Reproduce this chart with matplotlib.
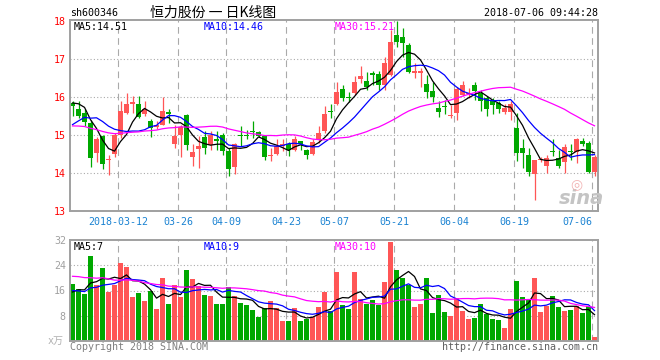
import matplotlib
matplotlib.use("Agg")
import matplotlib.pyplot as plt
import numpy as np
import pandas as pd

"""
        Data  (daily candles 2018-02-28 .. 2018-07-06, read off the picture)
"""
opens = [15.84, 15.69, 15.58, 15.32, 14.53, 14.96, 14.33, 14.49, 15.01, 15.58,
         15.82, 15.82, 15.54, 15.37, 15.20, 15.27, 15.61, 14.75, 15.01, 15.51,
         14.43, 14.62, 14.94, 14.73, 14.90, 15.01, 14.57, 14.16, 14.98, 15.00,
         15.11, 15.07, 14.96, 14.45, 14.51, 14.72, 14.75, 14.61, 14.83, 14.61,
         14.51, 14.86, 15.10, 15.62, 15.81, 16.21, 16.00, 16.10, 16.47, 16.42,
         16.62, 16.60, 16.32, 16.58, 17.63, 17.57, 17.37, 16.62, 16.62, 16.34,
         16.16, 15.70, 15.77, 15.51, 15.57, 16.06, 16.07, 16.32, 16.10, 15.97,
         15.90, 15.84, 15.60, 15.60, 15.17, 14.66, 14.46, 13.98, 14.35, 14.18,
         14.58, 14.39, 14.30, 14.58, 14.54, 14.85, 14.79, 14.02]
highs = [15.90, 15.89, 15.68, 15.40, 14.95, 15.00, 14.48, 15.05, 15.89, 16.10,
         16.02, 16.02, 15.89, 15.42, 15.36, 16.00, 15.68, 15.27, 15.27, 15.55,
         14.77, 14.98, 15.10, 15.10, 15.10, 15.05, 14.66, 14.78, 15.23, 15.14,
         15.36, 15.11, 15.01, 14.66, 14.88, 14.88, 14.81, 14.96, 14.85, 14.64,
         14.88, 15.23, 15.75, 15.82, 16.40, 16.32, 16.12, 16.54, 16.82, 16.65,
         16.67, 16.68, 17.04, 17.76, 18.00, 17.81, 17.41, 16.89, 16.75, 16.58,
         16.40, 15.89, 15.92, 15.79, 16.27, 16.41, 16.24, 16.39, 16.19, 16.02,
         15.97, 15.89, 15.80, 15.89, 15.58, 14.88, 14.66, 14.35, 14.42, 14.48,
         14.88, 14.61, 14.75, 14.75, 14.92, 14.92, 14.83, 14.46]
lows = [15.49, 15.45, 15.23, 14.15, 14.29, 14.11, 13.94, 14.42, 14.92, 15.54,
        15.58, 15.45, 15.51, 14.95, 15.16, 15.25, 15.32, 14.66, 14.42, 14.60,
        14.17, 14.14, 14.51, 14.61, 14.60, 14.48, 13.91, 13.98, 14.72, 14.88,
        14.92, 14.94, 14.35, 14.31, 14.48, 14.57, 14.44, 14.57, 14.61, 14.37,
        14.48, 14.79, 15.05, 15.45, 15.79, 15.88, 15.86, 16.05, 16.36, 16.18,
        16.32, 16.18, 16.18, 16.54, 17.32, 17.06, 16.62, 16.49, 16.27, 15.96,
        15.86, 15.48, 15.54, 15.44, 15.40, 16.02, 15.97, 15.93, 15.62, 15.49,
        15.54, 15.58, 15.56, 15.40, 14.31, 14.13, 13.93, 13.30, 14.30, 14.00,
        14.44, 14.13, 14.00, 14.35, 14.26, 14.70, 14.00, 13.93]
closes = [15.75, 15.49, 15.33, 14.38, 14.90, 14.23, 14.37, 14.99, 15.64, 15.82,
          15.87, 15.47, 15.68, 15.18, 15.25, 15.64, 15.54, 14.96, 15.21, 14.73,
          14.55, 14.70, 14.66, 15.01, 14.85, 14.57, 14.11, 14.75, 14.96, 14.97,
          15.08, 14.98, 14.41, 14.47, 14.72, 14.75, 14.60, 14.88, 14.75, 14.48,
          14.81, 15.05, 15.54, 15.60, 16.12, 15.98, 15.97, 16.39, 16.54, 16.27,
          16.58, 16.30, 16.89, 17.43, 17.44, 17.42, 16.65, 16.67, 16.67, 16.12,
          16.00, 15.59, 15.74, 15.53, 16.20, 16.32, 16.09, 16.15, 15.90, 15.67,
          15.78, 15.67, 15.71, 15.82, 14.53, 14.53, 14.02, 14.33, 14.37, 14.39,
          14.56, 14.18, 14.68, 14.55, 14.90, 14.75, 14.02, 14.41]
# volume, in 万 (10k) lots
volumes = [18.0, 16.6, 14.8, 26.9, 17.7, 23.2, 15.5, 17.7, 24.8, 23.5,
           14.0, 15.1, 12.7, 15.9, 10.2, 20.0, 11.7, 17.6, 14.0, 22.5,
           19.7, 17.4, 14.5, 14.2, 11.7, 11.7, 17.2, 14.3, 12.0, 11.3,
           9.7, 7.5, 10.3, 12.6, 10.3, 6.3, 6.3, 10.4, 6.3, 7.1,
           7.6, 10.7, 15.5, 9.5, 21.8, 11.3, 10.1, 21.8, 13.2, 11.7,
           12.9, 11.4, 18.6, 31.4, 22.5, 19.9, 17.7, 10.7, 11.7, 19.9,
           8.8, 14.5, 9.1, 7.8, 13.6, 9.4, 6.9, 7.2, 11.7, 8.5,
           6.9, 6.6, 4.0, 10.1, 19.0, 13.9, 13.2, 19.9, 9.1, 11.0,
           14.2, 10.7, 9.4, 9.7, 11.0, 8.8, 11.0, 1.2]

# sessions before the window (not drawn), only to start the moving averages
prior_closes = [15.6, 15.7, 15.8, 15.9, 15.7, 15.5, 15.6, 15.4, 15.3, 15.5,
                15.2, 15.0, 14.9, 14.8, 14.6, 14.9, 14.7, 14.6, 14.9, 14.8,
                14.5, 14.4, 14.6, 14.8, 15.2, 15.6, 15.8, 16.0, 16.05]
prior_volumes = [20, 24, 28, 22, 19, 26, 30, 25, 21, 18,
                 23, 27, 24, 20, 22, 25, 19, 21, 24, 17,
                 18, 17, 15, 16, 16.5, 13, 15, 16, 15.6]

date_labels = ["2018-03-12", "03-26", "04-09", "04-23", "05-07",
               "05-21", "06-04", "06-19", "07-06"]
date_index = [8, 18, 26, 36, 44, 54, 64, 74, 87]
price_ticks = [13, 14, 15, 16, 17, 18]
volume_ticks = [8, 16, 24, 32]
price_legend = ["MA5:14.51", "MA10:14.46", "MA30:15.21"]
volume_legend = ["MA5:7", "MA10:9", "MA30:10"]

"""
        Style
"""
RED = '#ff5656'
GREEN = '#00a800'
GRID = '#aaaaaa'
MA_COLORS = ['black', '#0000ff', '#ff00ff']
W, H = 660, 360
plt.rcParams['font.family'] = ['DejaVu Sans Mono', 'Noto Sans CJK SC']
FS = 7.2


def px(x0, y0, x1, y1):
    # pixel box -> figure fraction rect
    return [x0 / W, 1 - y1 / H, (x1 - x0) / W, (y1 - y0) / H]


def ftext(x, y, s, **kw):
    fig.text(x / W, 1 - y / H, s, **kw)


def moving_averages(prior, values):
    s = pd.Series(list(prior) + list(values))
    n = len(prior)
    return [s.rolling(k).mean().values[n:] for k in (5, 10, 30)]


o, h, l, c = map(np.array, (opens, highs, lows, closes))
v = np.array(volumes)
x = np.arange(len(c))
up = c >= o
col = np.where(up, RED, GREEN)
grid_x = np.array(date_index) - 0.35

fig = plt.figure(figsize=(6.6, 3.6), dpi=100)
ax = fig.add_axes(px(70, 20, 598, 211))
axv = fig.add_axes(px(70, 240, 598, 341))

"""
        Price panel
"""
ax.vlines(x, l, h, colors=col, lw=0.9, zorder=2)
ax.bar(x, np.maximum(np.abs(c - o), 0.025), bottom=np.minimum(o, c),
       width=0.8, color=col, lw=0, zorder=2)
for ma, mc in zip(moving_averages(prior_closes, closes), MA_COLORS):
    ax.plot(x, ma, color=mc, lw=0.9, zorder=3)

for p in price_ticks[1:-1]:
    ax.axhline(p, color=GRID, lw=0.8, ls=(0, (1, 2)), zorder=0)
ax.set_ylim(13, 18.02)
ax.set_yticks(price_ticks)
ax.tick_params(axis='y', length=0, pad=3, labelcolor='red', labelsize=FS)
ax.set_xticks(grid_x, date_labels)
ax.tick_params(axis='x', length=0, pad=4, labelcolor='#1a82d2', labelsize=FS)
# last date label sits left of its grid line so it stays inside the frame
ax.get_xticklabels()[-1].set_horizontalalignment('right')

"""
        Volume panel
"""
axv.bar(x, v, width=0.8, color=col, lw=0, zorder=2)
for ma, mc in zip(moving_averages(prior_volumes, volumes), MA_COLORS):
    axv.plot(x, ma, color=mc, lw=0.9, zorder=3)
for t in volume_ticks[:-1]:
    axv.axhline(t, color=GRID, lw=0.8, ls=(0, (1, 2)), zorder=0)
axv.set_ylim(0, 32)
axv.set_yticks(volume_ticks)
axv.set_xticks([])
axv.tick_params(axis='y', length=0, pad=3, labelcolor='#a0a0a0', labelsize=FS)

for a in (ax, axv):
    a.set_xlim(-0.42, 87.58)
    for gx in grid_x:
        a.axvline(gx, color=GRID, lw=0.8, ls=(0, (6, 4)), zorder=0)
    for s in a.spines.values():
        s.set_color('#a0a0a0')
        s.set_linewidth(1.4)

"""
        Texts
"""
ftext(70, 13, "sh600346", ha='left', va='center', size=FS)
ftext(213, 13, "恒力股份 一 日K线图", ha='center', va='center', size=10,
      family=['Noto Sans CJK SC', 'DejaVu Sans'])
ftext(598, 13, "2018-07-06 09:44:28", ha='right', va='center', size=FS)
for xs, s, mc in zip((74, 204, 335), price_legend, MA_COLORS):
    ftext(xs, 27, s, ha='left', va='center', size=FS, color=mc)
for xs, s, mc in zip((74, 204, 335), volume_legend, MA_COLORS):
    ftext(xs, 247, s, ha='left', va='center', size=FS, color=mc)
ftext(64, 341, "x万", ha='right', va='center', size=FS, color='#b0b0b0')
ftext(70, 347, "Copyright 2018 SINA.COM", ha='left', va='center', size=FS,
      color='#808080')
ftext(598, 347, "http://finance.sina.com.cn", ha='right', va='center',
      size=FS, color='#606060')
# sina watermark
ftext(581, 199, "sina", ha='center', va='center', size=14, weight='bold',
      style='italic', color='#c4c4c4', family='DejaVu Sans')
ftext(576, 184, "◎", ha='center', va='center', size=10, color='#f2b4b4',
      family='DejaVu Sans')

fig.savefig("out.png", dpi=100)
